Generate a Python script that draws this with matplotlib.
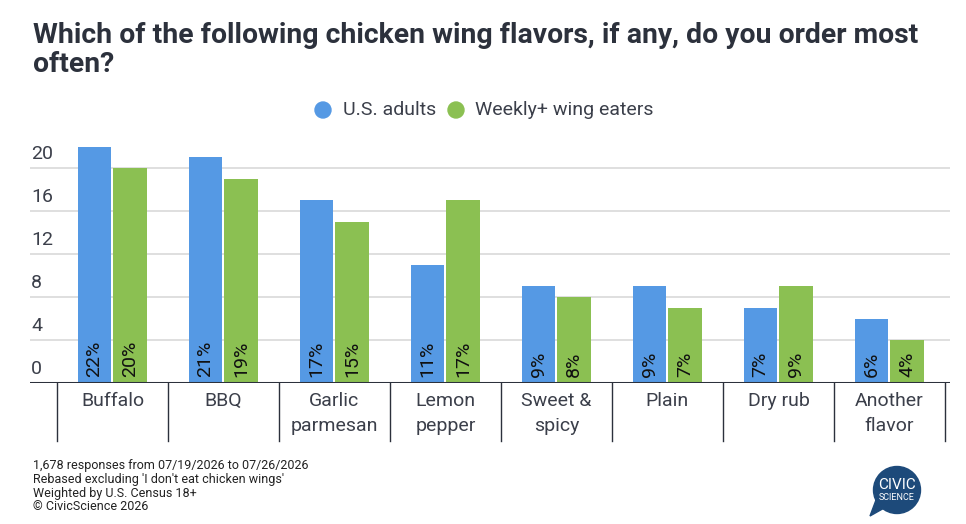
import matplotlib.pyplot as plt
import matplotlib.patches as mpatches
import numpy as np

plt.rcParams["font.family"] = ["Roboto", "DejaVu Sans"]

categories = ["Buffalo", "BBQ", "Garlic\nparmesan", "Lemon\npepper", "Sweet &\nspicy",
              "Plain", "Dry rub", "Another\nflavor"]
us_adults = [22, 21, 17, 11, 9, 9, 7, 6]
weekly_eaters = [20, 19, 15, 17, 8, 7, 9, 4]
series_names = ["U.S. adults", "Weekly+ wing eaters"]
y_ticks = [0, 4, 8, 12, 16, 20]
footer_lines = [
    "1,678 responses from 07/19/2026 to 07/26/2026",
    "Rebased excluding 'I don't eat chicken wings'",
    "Weighted by U.S. Census 18+",
    "\u00a9 CivicScience 2026",
]

BLUE = "#5599e4"
GREEN = "#8bc052"
DARK = "#2c313c"
TEXT = "#3b3f4a"

W, H = 966, 524
fig = plt.figure(figsize=(W / 100, H / 100), dpi=100)

# axes placed in pixel terms
ax_left, ax_right, ax_bottom, ax_top = 30, 950, 383, 136
ax = fig.add_axes([ax_left / W, (H - ax_bottom) / H,
                   (ax_right - ax_left) / W, (ax_bottom - ax_top) / H])

cat_w = 111.0
x0 = 57.0
ax.set_xlim((ax_left - x0) / cat_w - 0.5, (ax_right - x0) / cat_w - 0.5)
ax.set_ylim(0, 23)

x = np.arange(len(categories))
bw = 0.305
ax.bar(x - 0.162, us_adults, bw, color=BLUE, zorder=2)
ax.bar(x + 0.158, weekly_eaters, bw, color=GREEN, zorder=2)

for xi, v in zip(x - 0.162, us_adults):
    ax.annotate(f"{v}%", (xi, 0), xytext=(0, 6), textcoords="offset pixels",
                rotation=90, ha="center", va="bottom", fontsize=14, color="#111111", zorder=3)
for xi, v in zip(x + 0.158, weekly_eaters):
    ax.annotate(f"{v}%", (xi, 0), xytext=(0, 6), textcoords="offset pixels",
                rotation=90, ha="center", va="bottom", fontsize=14, color="#111111", zorder=3)

# grid and y labels
for t in y_ticks:
    if t > 0:
        ax.axhline(t, color="#d9d9d9", lw=1.2, zorder=1)
    ax.annotate(str(t), (0, t), xycoords=ax.get_yaxis_transform(),
                xytext=(1, 5), textcoords="offset pixels",
                ha="left", va="bottom", fontsize=14, color=TEXT)
ax.axhline(0, color=DARK, lw=2.2, zorder=4)

# category separators and labels
sep_len = (441 - ax_bottom) / (ax_bottom - ax_top)
for i in range(len(categories) + 1):
    ax.plot([i - 0.5, i - 0.5], [0, -sep_len], transform=ax.get_xaxis_transform(),
            color=DARK, lw=1, clip_on=False)
for xi, lab in zip(x, categories):
    ax.annotate(lab, (xi, 0), xycoords=ax.get_xaxis_transform(),
                xytext=(0, -9), textcoords="offset pixels",
                ha="center", va="top", fontsize=14, color=TEXT, linespacing=1.5)

for s in ax.spines.values():
    s.set_visible(False)
ax.set_xticks([])
ax.set_yticks([])

# title
fig.text(33 / W, 1 - 22 / H, "Which of the following chicken wing flavors, if any, do you order most\noften?",
         ha="left", va="top", fontsize=20.4, fontweight="bold", color=DARK, linespacing=1.08)

# legend
leg_y = 1 - 110 / H
fig.patches.append(mpatches.Ellipse((323 / W, leg_y), 16 / W, 16 / H, transform=fig.transFigure,
                                    color=BLUE))
fig.text(343 / W, leg_y, series_names[0], ha="left", va="center", fontsize=14, color=TEXT)
fig.patches.append(mpatches.Ellipse((456 / W, leg_y), 16 / W, 16 / H, transform=fig.transFigure,
                                    color=GREEN))
fig.text(475 / W, leg_y, series_names[1], ha="left", va="center", fontsize=14, color=TEXT)

# footer
for k, line in enumerate(footer_lines):
    fig.text(33 / W, 1 - (465 + 14 * k) / H, line, ha="left", va="center",
             fontsize=9, color="#222222")

# logo
lx, ly, ls = 866, 462, 60
lax = fig.add_axes([lx / W, 1 - (ly + ls) / H, ls / W, ls / H])
lax.set_xlim(0, ls)
lax.set_ylim(ls, 0)
lax.axis("off")
LOGO = "#1d4a7a"
lax.add_patch(mpatches.Circle((31, 28), 23.5, color=LOGO))
lax.add_patch(mpatches.Polygon([[10, 38], [20, 45], [4, 54]], color=LOGO))
lax.text(31, 23, "CIVIC", ha="center", va="center", fontsize=11, color="white")
lax.text(31, 35, "SCIENCE", ha="center", va="center", fontsize=6.5, color="white")

fig.savefig("out.png", dpi=100)
